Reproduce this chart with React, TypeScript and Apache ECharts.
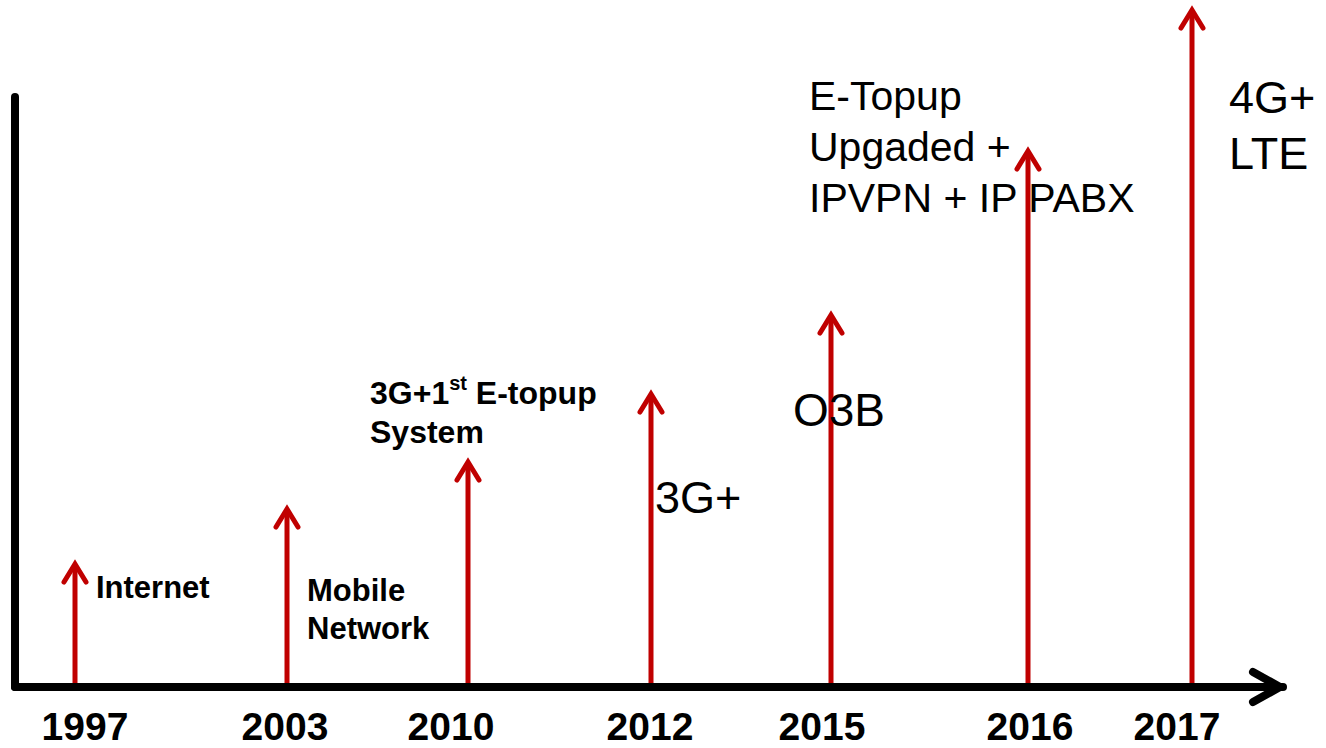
import React, { useEffect, useRef } from "react";
import * as echarts from "echarts";

// ---- data ----
const years = ["1997", "2003", "2010", "2012", "2015", "2016", "2017"];
// position of each milestone along the timeline (axis units)
const positions = [60, 272, 453, 636, 816, 1013, 1177];
// arrow height of each milestone (axis units)
const heights = [125, 180, 227, 295, 374, 538, 679];
const notes = [
  "Internet",
  "Mobile\nNetwork",
  "{b|3G+1}{sup|st}{b| E-topup}\n{b|System}",
  "3G+",
  "O3B",
  "E-Topup\nUpgaded +\nIPVPN + IP PABX",
  "4G+\nLTE",
];

// ---- layout / style (not data) ----
const yearDx = [10, -2, -17, -1, -9, 2, -15];
const noteLayout = [
  { dx: 21, dy: -100, size: 31, bold: true, lh: 38 },
  { dx: 20, dy: -97, size: 31, bold: true, lh: 38.5 },
  { dx: -98, dy: -294.5, size: 32, bold: true, lh: 39, rich: true },
  { dx: 4, dy: -190, size: 45, bold: false, lh: 50 },
  { dx: -38, dy: -277, size: 46, bold: false, lh: 50 },
  { dx: -219, dy: -591, size: 41, bold: false, lh: 51 },
  { dx: 37, dy: -590, size: 45, bold: false, lh: 56 },
];

const RED = "#C00000";
const FONT = "Arial, 'Liberation Sans', sans-serif";

export default function App() {
  const ref = useRef<HTMLDivElement>(null);
  useEffect(() => {
    document.body.style.margin = "0";
    const chart = echarts.init(ref.current!, null, { renderer: "svg" });
    const data = positions.map((p, i) => [p, heights[i], i]);
    chart.setOption({
      animation: false,
      backgroundColor: "#ffffff",
      grid: { left: 15, right: 43, top: 97, bottom: 61 },
      xAxis: {
        type: "value",
        min: 0,
        max: 1268,
        splitLine: { show: false },
        axisTick: { show: false },
        axisLabel: { show: false },
        axisLine: { show: true, onZero: false, lineStyle: { color: "#000", width: 8 } },
        z: 5,
      },
      yAxis: {
        type: "value",
        min: 0,
        max: 590,
        splitLine: { show: false },
        axisTick: { show: false },
        axisLabel: { show: false },
        axisLine: { show: true, onZero: false, lineStyle: { color: "#000", width: 8 } },
        z: 5,
      },
      graphic: [
        {
          type: "polyline",
          z: 10,
          shape: { points: [[1253, 672], [1280, 687], [1253, 702]] },
          style: { stroke: "#000", lineWidth: 8, fill: "none", lineCap: "round", lineJoin: "round" },
        },
      ],
      series: [
        {
          type: "custom",
          clip: false,
          z: 2,
          data,
          renderItem: (params: any, api: any) => {
            const x = api.value(0);
            const h = api.value(1);
            const i = api.value(2);
            const base = api.coord([x, 0]);
            const tip = api.coord([x, h]);
            const nl = noteLayout[i];
            const noteStyle: any = {
              text: notes[i],
              x: base[0] + nl.dx,
              y: base[1] + nl.dy - nl.lh / 2,
              fill: "#000",
              fontFamily: FONT,
              fontSize: nl.size,
              fontWeight: nl.bold ? "bold" : "normal",
              lineHeight: nl.lh,
              align: "left",
              verticalAlign: "top",
            };
            if (nl.rich) {
              noteStyle.rich = {
                b: { fontFamily: FONT, fontSize: nl.size, fontWeight: "bold", lineHeight: nl.lh, fill: "#000" },
                sup: {
                  fontFamily: FONT,
                  fontSize: 20,
                  fontWeight: "bold",
                  lineHeight: nl.lh,
                  fill: "#000",
                  verticalAlign: "top",
                },
              };
            }
            return {
              type: "group",
              children: [
                {
                  type: "line",
                  shape: { x1: base[0], y1: base[1], x2: tip[0], y2: tip[1] + 2 },
                  style: { stroke: RED, lineWidth: 5 },
                },
                {
                  type: "polyline",
                  shape: {
                    points: [
                      [tip[0] - 11, tip[1] + 20],
                      [tip[0], tip[1] + 2],
                      [tip[0] + 11, tip[1] + 20],
                    ],
                  },
                  style: { stroke: RED, lineWidth: 5, fill: "none", lineCap: "round", lineJoin: "miter" },
                },
                {
                  type: "text",
                  style: {
                    text: years[i],
                    x: base[0] + yearDx[i],
                    y: base[1] + 39,
                    fill: "#000",
                    fontFamily: FONT,
                    fontSize: 39,
                    fontWeight: "bold",
                    align: "center",
                    verticalAlign: "middle",
                  },
                },
                { type: "text", style: noteStyle },
              ],
            };
          },
        },
      ],
    });
    return () => chart.dispose();
  }, []);
  return (
    <div
      ref={ref}
      style={{ position: "absolute", left: 0, top: 0, width: 1326, height: 748 }}
    />
  );
}
